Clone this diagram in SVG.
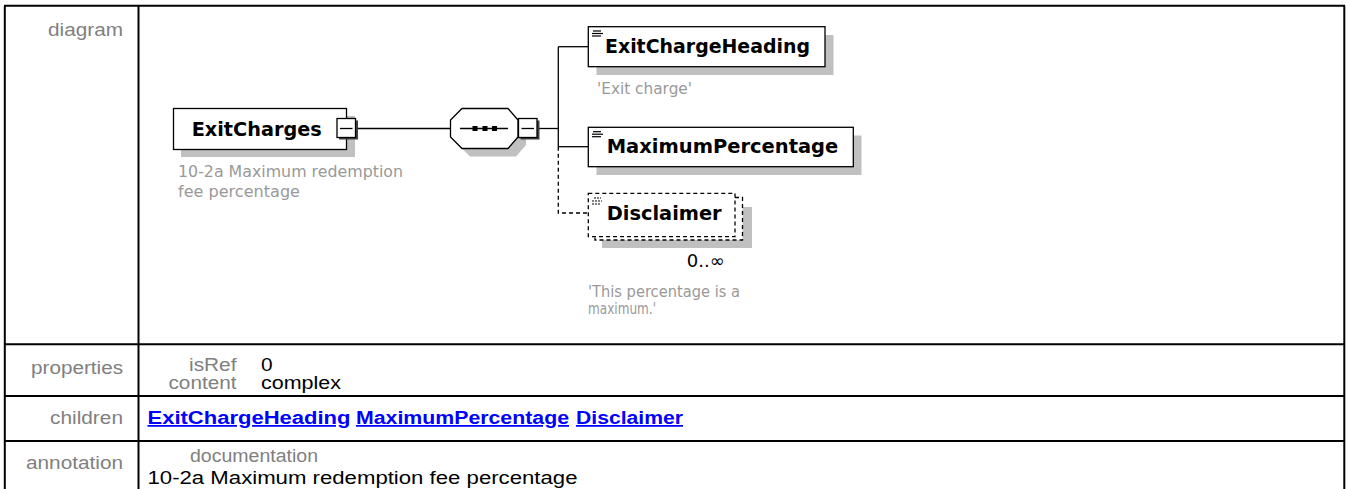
<svg xmlns="http://www.w3.org/2000/svg" width="1346" height="489" viewBox="0 0 1346 489">
<style>
.tbl{stroke:#000;stroke-width:2;fill:none}
.lbl{font-family:"Liberation Sans",Arial,sans-serif;font-size:17.5px;fill:#808080}
.val{font-family:"Liberation Sans",Arial,sans-serif;font-size:17.5px;fill:#000}
.lnk{font-family:"Liberation Sans",Arial,sans-serif;font-size:17.5px;font-weight:bold;fill:#0000ff;text-decoration:underline}
.box{fill:#fff;stroke:#000;stroke-width:1.3}
.dbox{fill:#fff;stroke:#000;stroke-width:1.3;stroke-dasharray:4 3}
.shd{fill:#c0c0c0}
.mshd{fill:#404040}
.nm{font-family:"DejaVu Sans",Tahoma,sans-serif;font-weight:bold;font-size:19px;fill:#000}
.ann{font-family:"DejaVu Sans",Tahoma,sans-serif;font-size:15px;fill:#999}
.occ{font-family:"DejaVu Sans",Tahoma,sans-serif;font-size:18px;fill:#000}
.con{stroke:#000;stroke-width:1.3;fill:none}
.dcon{stroke:#000;stroke-width:1.3;fill:none;stroke-dasharray:4 3}
.ico{stroke:#000;stroke-width:1.2}
</style>
<g id="table">
<line class="tbl" x1="4" y1="5.7" x2="1345" y2="5.7"/>
<line class="tbl" x1="4.8" y1="5.7" x2="4.8" y2="489"/>
<line class="tbl" x1="1344.3" y1="5.7" x2="1344.3" y2="489"/>
<line class="tbl" x1="138.5" y1="5.7" x2="138.5" y2="489"/>
<line class="tbl" x1="4.8" y1="344.3" x2="1344.3" y2="344.3"/>
<line class="tbl" x1="4.8" y1="396" x2="1344.3" y2="396"/>
<line class="tbl" x1="4.8" y1="441" x2="1344.3" y2="441"/>
<text class="lbl" x="48" y="36" textLength="75" lengthAdjust="spacingAndGlyphs">diagram</text>
<text class="lbl" x="31" y="374" textLength="92" lengthAdjust="spacingAndGlyphs">properties</text>
<text class="lbl" x="189" y="371" textLength="47.5" lengthAdjust="spacingAndGlyphs">isRef</text>
<text class="lbl" x="168.5" y="389" textLength="68" lengthAdjust="spacingAndGlyphs">content</text>
<text class="val" x="261" y="371" textLength="11.6" lengthAdjust="spacingAndGlyphs">0</text>
<text class="val" x="261" y="389" textLength="80" lengthAdjust="spacingAndGlyphs">complex</text>
<text class="lbl" x="50" y="424" textLength="73" lengthAdjust="spacingAndGlyphs">children</text>
<text class="lnk" x="147.5" y="424" textLength="203" lengthAdjust="spacingAndGlyphs">ExitChargeHeading</text>
<text class="lnk" x="356" y="424" textLength="213" lengthAdjust="spacingAndGlyphs">MaximumPercentage</text>
<text class="lnk" x="576" y="424" textLength="107" lengthAdjust="spacingAndGlyphs">Disclaimer</text>
<text class="lbl" x="26" y="469" textLength="97" lengthAdjust="spacingAndGlyphs">annotation</text>
<text class="lbl" x="190" y="462" textLength="128" lengthAdjust="spacingAndGlyphs">documentation</text>
<text class="val" x="147.5" y="484" textLength="430" lengthAdjust="spacingAndGlyphs">10-2a Maximum redemption fee percentage</text>
</g>
<g id="connectors">
<line class="con" x1="356" y1="128.5" x2="450.5" y2="128.5"/>
<line class="con" x1="537" y1="128.5" x2="558.3" y2="128.5"/>
<line class="con" x1="558.3" y1="46.7" x2="558.3" y2="146.7"/>
<line class="con" x1="558.3" y1="46.7" x2="588.3" y2="46.7"/>
<line class="con" x1="558.3" y1="146.7" x2="588.3" y2="146.7"/>
<polyline class="dcon" points="558.3,146.7 558.3,213 588.3,213"/>
</g>
<g id="ExitCharges">
<rect class="shd" x="181" y="116" width="174" height="41"/>
<rect class="box" x="173.5" y="108.5" width="173" height="41"/>
<text class="nm" x="191.7" y="136" textLength="130" lengthAdjust="spacingAndGlyphs">ExitCharges</text>
<rect class="mshd" x="339" y="120.5" width="19" height="19"/>
<rect class="box" x="337" y="118.5" width="18.5" height="19"/>
<line class="con" x1="340" y1="128.5" x2="352.5" y2="128.5"/>
<text class="ann" x="178" y="177" textLength="225" lengthAdjust="spacingAndGlyphs">10-2a Maximum redemption</text>
<text class="ann" x="178" y="197" textLength="122" lengthAdjust="spacingAndGlyphs">fee percentage</text>
</g>
<g id="sequence">
<polygon class="shd" points="470,116.5 516,116.5 526,128 526,145 516,156.5 470,156.5 458.5,145 458.5,128"/>
<polygon class="box" points="462,108.5 508,108.5 518,120 518,137 508,148.5 462,148.5 450.5,137 450.5,120"/>
<line class="con" x1="460" y1="128.5" x2="508" y2="128.5"/>
<rect x="472.5" y="126" width="5" height="5" fill="#000"/>
<rect x="482.5" y="126" width="5" height="5" fill="#000"/>
<rect x="492" y="126" width="5" height="5" fill="#000"/>
<rect class="mshd" x="520.5" y="120.5" width="19" height="19"/>
<rect class="box" x="518.5" y="118.5" width="18.5" height="19"/>
<line class="con" x1="521.5" y1="128.5" x2="534" y2="128.5"/>
</g>
<g id="ExitChargeHeading">
<rect class="shd" x="596.5" y="35" width="237" height="40"/>
<rect class="box" x="588.3" y="26.7" width="236.7" height="40"/>
<line class="ico" x1="593" y1="31" x2="601" y2="31"/>
<line class="ico" x1="592" y1="33.5" x2="603" y2="33.5"/>
<line class="ico" x1="592" y1="36" x2="601" y2="36"/>
<text class="nm" x="605" y="53" textLength="205" lengthAdjust="spacingAndGlyphs">ExitChargeHeading</text>
<text class="ann" x="597" y="94" textLength="95" lengthAdjust="spacingAndGlyphs">'Exit charge'</text>
</g>
<g id="MaximumPercentage">
<rect class="shd" x="596.5" y="135.5" width="265" height="39.5"/>
<rect class="box" x="588.3" y="127.3" width="265" height="39.4"/>
<line class="ico" x1="593" y1="131.7" x2="601" y2="131.7"/>
<line class="ico" x1="592" y1="134.2" x2="603" y2="134.2"/>
<line class="ico" x1="592" y1="136.7" x2="601" y2="136.7"/>
<text class="nm" x="606.7" y="153.3" textLength="231.6" lengthAdjust="spacingAndGlyphs">MaximumPercentage</text>
</g>
<g id="Disclaimer">
<rect class="shd" x="602" y="207" width="150" height="41"/>
<rect class="dbox" x="595" y="197.5" width="147.5" height="42.5"/>
<rect class="dbox" x="588.3" y="193.3" width="146.7" height="43.3"/>
<line class="ico" x1="594" y1="198" x2="601" y2="198" stroke-dasharray="2 1"/>
<line class="ico" x1="592" y1="201" x2="602" y2="201" stroke-dasharray="2 1"/>
<line class="ico" x1="592" y1="204" x2="601" y2="204" stroke-dasharray="2 1"/>
<text class="nm" x="606.7" y="220" textLength="115" lengthAdjust="spacingAndGlyphs">Disclaimer</text>
<text class="occ" x="686.7" y="267" textLength="38" lengthAdjust="spacingAndGlyphs">0..∞</text>
<text class="ann" x="588" y="297" textLength="152" lengthAdjust="spacingAndGlyphs">'This percentage is a</text>
<text class="ann" x="588" y="314" textLength="68" lengthAdjust="spacingAndGlyphs">maximum.'</text>
</g>
</svg>
